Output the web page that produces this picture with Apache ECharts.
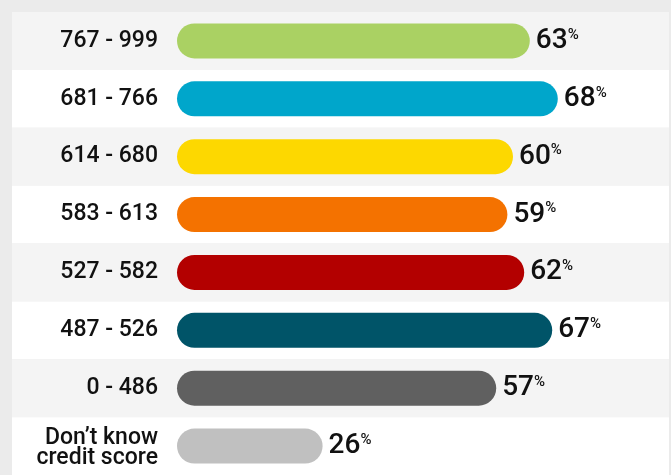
<!DOCTYPE html>
<html>
<head>
<meta charset="utf-8">
<script src="https://cdn.jsdelivr.net/npm/echarts@6/dist/echarts.min.js"></script>
<style>
  html, body { margin: 0; padding: 0; background: #ebebeb; }
  #chart { width: 671px; height: 475px; }
</style>
</head>
<body>
<div id="chart"></div>
<script>
// Credit score bands and share of respondents (%)
const categories = ['767 - 999', '681 - 766', '614 - 680', '583 - 613', '527 - 582', '487 - 526', '0 - 486', 'Don\u2019t know\ncredit score'];
const values = [63, 68, 60, 59, 62, 67, 57, 26];
const palette = ['#aad163', '#00a6cb', '#fdd800', '#f47200', '#b30000', '#005468', '#606060', '#c0c0c0'];

const FONT = 'Roboto';

const chart = echarts.init(document.getElementById('chart'), null, { renderer: 'canvas' });

chart.setOption({
  backgroundColor: '#ebebeb',
  animation: false,
  grid: [
    // full-width striped rows behind everything
    { left: 12, right: 2, top: 12, height: 464 },
    // plotting area for the bars
    { left: 177, width: 476, top: 12, height: 464 }
  ],
  xAxis: [
    { gridIndex: 0, type: 'value', show: false, min: 0, max: 1 },
    { gridIndex: 1, type: 'value', min: 0, max: 85, show: false }
  ],
  yAxis: [
    {
      gridIndex: 0, type: 'category', data: categories, inverse: true,
      axisLine: { show: false }, axisTick: { show: false }, axisLabel: { show: false },
      splitArea: { show: true, areaStyle: { color: ['#f4f4f4', '#ffffff'] } }
    },
    {
      gridIndex: 1, type: 'category', data: categories, inverse: true,
      axisLine: { show: false }, axisTick: { show: false },
      axisLabel: {
        margin: 19, color: '#111', fontFamily: FONT, fontSize: 23, fontWeight: 500,
        lineHeight: 20, align: 'right',
        // two-line labels sit slightly lower in their row
        formatter: v => v.indexOf('\n') >= 0 ? '{t|' + v.split('\n').join('}\n{t|') + '}' : v,
        rich: {
          t: { fontFamily: FONT, fontSize: 23, fontWeight: 500, color: '#111', lineHeight: 20, padding: [4, 0, 0, 0] }
        }
      }
    }
  ],
  series: [{
    type: 'bar',
    xAxisIndex: 1, yAxisIndex: 1,
    barWidth: 35,
    data: values.map((v, i) => ({ value: v, itemStyle: { color: palette[i] } })),
    itemStyle: { borderRadius: 17.5 },
    label: {
      show: true, position: 'right', distance: 6,
      formatter: p => '{v|' + p.value + '}{p|%}',
      rich: {
        v: { fontFamily: FONT, fontSize: 28, fontWeight: 500, color: '#111' },
        p: { fontFamily: FONT, fontSize: 15, fontWeight: 500, color: '#111', padding: [0, 0, 12, 0] }
      }
    }
  }]
});
</script>
</body>
</html>
